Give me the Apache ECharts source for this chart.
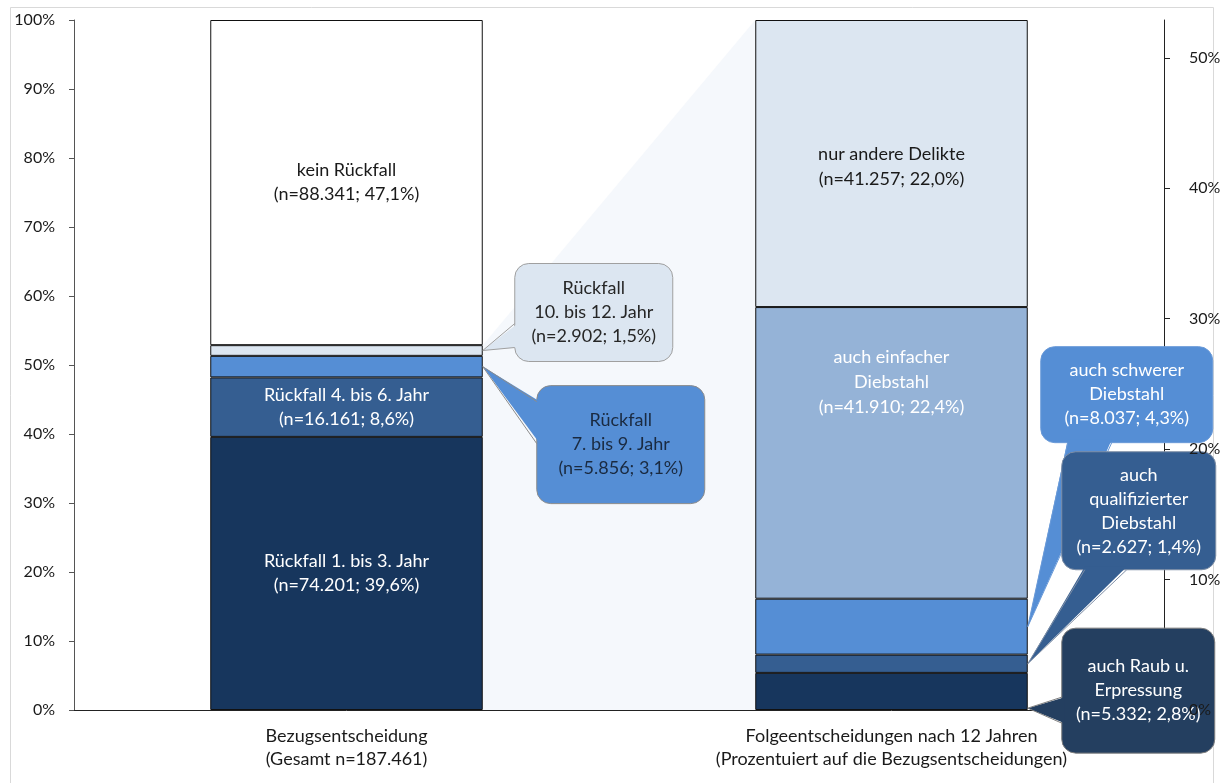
<!DOCTYPE html>
<html><head><meta charset="utf-8">
<script src="https://cdn.jsdelivr.net/npm/echarts@6/dist/echarts.min.js"></script>
<style>html,body{margin:0;padding:0;background:#fff}#c{width:1223px;height:783px}</style>
</head><body><div id="c"></div>
<script>
// ---------- DATA ----------
const categories = ['Bezugsentscheidung\n(Gesamt n=187.461)', 'Folgeentscheidungen nach 12 Jahren\n(Prozentuiert auf die Bezugsentscheidungen)'];
const totalN = 187461;
const leftNames = ['Rückfall 1. bis 3. Jahr', 'Rückfall 4. bis 6. Jahr', 'Rückfall\n7. bis 9. Jahr', 'Rückfall\n10. bis 12. Jahr', 'kein Rückfall'];
const leftN = [74201, 16161, 5856, 2902, 88341];
const rightNames = ['auch Raub u.\nErpressung', 'auch\nqualifizierter\nDiebstahl', 'auch schwerer\nDiebstahl', 'auch einfacher\nDiebstahl', 'nur andere Delikte'];
const rightN = [5332, 2627, 8037, 41910, 41257];
const leftTicks = [0, 10, 20, 30, 40, 50, 60, 70, 80, 90, 100];
const rightTicks = [0, 10, 20, 30, 40, 50];

// ---------- STYLE ----------
const FONT = 'Lato';
const FS = 18;
const leftColors = ['#17365d', '#355e91', '#558ed5', '#dce6f1', '#ffffff'];
const rightColors = ['#17365d', '#355e91', '#558ed5', '#95b3d7', '#dce6f1'];
const leftInLabel = [{c:'#fff', off:0}, {c:'#fff', off:0}, null, null, {c:'#1a1a1a', off:0}];
const rightInLabel = [null, null, null, {c:'#fff', off:-71}, {c:'#1a1a1a', off:3}];
// callouts: side 0=left bar, 1=right bar; seg index; frac in segment; box offset from anchor
const callouts = [
  {side:0, seg:3, frac:0.5, dx:32, dy:-87, w:158, h:98, edge:'left', b0:60, b1:84, fill:'#dce6f1', stroke:'#a0a0a0', text:'#262626'},
  {side:0, seg:2, frac:0.5, dx:54, dy:19, w:168, h:118, edge:'left', b0:16, b1:58, fill:'#558ed5', stroke:'#8c8c8c', text:'#1a2a40'},
  {side:1, seg:2, frac:0.5, dx:13, dy:-280, w:172, h:96, edge:'bottom', b0:27, b1:71, fill:'#558ed5', stroke:'#6a9ad8', text:'#ffffff'},
  {side:1, seg:1, frac:0.5, dx:34, dy:-212, w:154, h:118, edge:'bottom', b0:23, b1:65, fill:'#355e91', stroke:'#7f8fa6', text:'#ffffff'},
  {side:1, seg:0, frac:0.05, dx:34, dy:-80, w:153, h:125, edge:'left', b0:69, b1:95, fill:'#243f60', stroke:'#7f7f7f', text:'#ffffff'}
];

// ---------- helpers ----------
const pct = n => n / totalN * 100;
const fmtN = n => String(n).replace(/\B(?=(\d{3})+(?!\d))/g, '.');
const fmtP = n => pct(n).toFixed(1).replace('.', ',');
const lab = (name, n) => name + '\n(n=' + fmtN(n) + '; ' + fmtP(n) + '%)';
const leftPct = leftN.map(pct);
const rightPct = rightN.map(pct);
const rightMax = rightPct.reduce((a, b) => a + b, 0);
const recidTotal = leftPct.slice(0, 4).reduce((a, b) => a + b, 0);
const cum = arr => arr.map((v, i) => arr.slice(0, i).reduce((a, b) => a + b, 0));
const leftCum = cum(leftPct), rightCum = cum(rightPct);

const series = [];
// gap shading
series.push({
  type: 'custom', xAxisIndex: 0, yAxisIndex: 0, z: 1, silent: true,
  data: [[0, recidTotal, 1, 100]],
  renderItem: function (params, api) {
    const bw = api.size([1, 0])[0] * 0.5;
    const a = api.coord([api.value(0), api.value(1)]);
    const b = api.coord([api.value(2), api.value(3)]);
    const z0 = api.coord([0, 0]);
    const x0 = a[0] + bw / 2, x1 = b[0] - bw / 2;
    return {type: 'polygon', shape: {points: [[x0, a[1]], [x1, b[1]], [x1, z0[1]], [x0, z0[1]]]},
      style: {fill: '#f5f8fc'}};
  }
});
leftN.forEach((n, i) => {
  const L = leftInLabel[i];
  series.push({
    type: 'bar', name: leftNames[i], stack: 's', yAxisIndex: 0, barWidth: '50%', z: 2,
    data: [leftPct[i], '-'],
    itemStyle: {color: leftColors[i], borderColor: '#111', borderWidth: 1},
    label: L ? {show: true, position: 'inside', offset: [0, L.off], formatter: () => lab(leftNames[i], n),
      color: L.c, fontFamily: FONT, fontSize: FS, lineHeight: 24} : {show: false}
  });
});
rightN.forEach((n, i) => {
  const L = rightInLabel[i];
  series.push({
    type: 'bar', name: rightNames[i], stack: 's', yAxisIndex: 1, barWidth: '50%', z: 2,
    data: ['-', rightPct[i]],
    itemStyle: {color: rightColors[i], borderColor: '#111', borderWidth: 1},
    label: L ? {show: true, position: 'inside', offset: [0, L.off], formatter: () => lab(rightNames[i], n),
      color: L.c, fontFamily: FONT, fontSize: FS, lineHeight: 25} : {show: false}
  });
});

function calloutRender(params, api) {
  const k = api.value(2);
  const C = callouts[k];
  const bw = api.size([1, 0])[0] * 0.5;
  const p = api.coord([api.value(0), api.value(1)]);
  const ax = p[0] + bw / 2, ay = p[1];
  const bx = ax + C.dx, by = ay + C.dy;
  let q0, q1, i0, i1;
  if (C.edge === 'left') {
    q0 = [bx, by + C.b0]; q1 = [bx, by + C.b1];
    i0 = [bx + 3, by + C.b0]; i1 = [bx + 3, by + C.b1];
  } else {
    q0 = [bx + C.b0, by + C.h]; q1 = [bx + C.b1, by + C.h];
    i0 = [bx + C.b0, by + C.h - 3]; i1 = [bx + C.b1, by + C.h - 3];
  }
  const names = C.side === 0 ? leftNames : rightNames;
  const ns = C.side === 0 ? leftN : rightN;
  return {
    type: 'group', children: [
      {type: 'rect', shape: {x: bx, y: by, width: C.w, height: C.h, r: 14},
        style: {fill: C.fill, stroke: C.stroke, lineWidth: 1}},
      {type: 'polygon', shape: {points: [i0, [ax, ay], i1]}, style: {fill: C.fill}},
      {type: 'polyline', shape: {points: [q0, [ax, ay], q1]}, style: {fill: null, stroke: C.stroke, lineWidth: 1}},
      {type: 'text', style: {text: lab(names[C.seg], ns[C.seg]), x: bx + C.w / 2, y: by + C.h / 2,
        align: 'center', verticalAlign: 'middle', fill: C.text, font: FS + 'px ' + FONT, lineHeight: 24}}
    ]
  };
}
const leftCallData = [], rightCallData = [];
callouts.forEach((C, k) => {
  if (C.side === 0) leftCallData.push([0, leftCum[C.seg] + C.frac * leftPct[C.seg], k]);
  else rightCallData.push([1, rightCum[C.seg] + C.frac * rightPct[C.seg], k]);
});
series.push({type: 'custom', xAxisIndex: 0, yAxisIndex: 0, z: 5, silent: true, data: leftCallData, renderItem: calloutRender});
series.push({type: 'custom', xAxisIndex: 0, yAxisIndex: 1, z: 5, silent: true, data: rightCallData, renderItem: calloutRender});

const chart = echarts.init(document.getElementById('c'), null, {renderer: 'canvas'});
chart.setOption({
  animation: false,
  backgroundColor: '#fff',
  textStyle: {fontFamily: FONT},
  graphic: [{type: 'rect', z: -10, shape: {x: 10.5, y: 7.5, width: 1203, height: 800},
    style: {fill: null, stroke: '#d9d9d9', lineWidth: 1}, silent: true}],
  grid: {left: 74, right: 59, top: 20, bottom: 73, containLabel: false, outerBoundsMode: 'none'},
  xAxis: {
    type: 'category', data: categories,
    axisLine: {lineStyle: {color: '#222', width: 1}},
    axisTick: {show: false},
    axisLabel: {color: '#1a1a1a', fontFamily: FONT, fontSize: FS, lineHeight: 23, margin: 15, interval: 0}
  },
  yAxis: [
    {type: 'value', position: 'left', min: 0, max: 100, interval: 10,
      splitLine: {show: false},
      axisLine: {show: true, lineStyle: {color: '#555', width: 1}},
      axisTick: {show: true, inside: false, length: 5, lineStyle: {color: '#555'}},
      axisLabel: {formatter: v => v + '%', color: '#1a1a1a', fontFamily: FONT, fontSize: 16, margin: 19,
        customValues: leftTicks}},
    {type: 'value', position: 'right', min: 0, max: rightMax,
      splitLine: {show: false},
      axisLine: {show: true, lineStyle: {color: '#222', width: 1}},
      axisTick: {show: true, inside: false, length: 6, lineStyle: {color: '#222'}, customValues: rightTicks},
      axisLabel: {show: false}},
    {type: 'value', position: 'right', offset: 0, min: 0, max: rightMax, z: 10,
      splitLine: {show: false},
      axisLine: {show: false}, axisTick: {show: false},
      axisLabel: {formatter: v => v + '%', color: '#1a1a1a', fontFamily: FONT, fontSize: 16, margin: 25,
        customValues: rightTicks}}
  ],
  series: series
});
</script>
</body></html>
